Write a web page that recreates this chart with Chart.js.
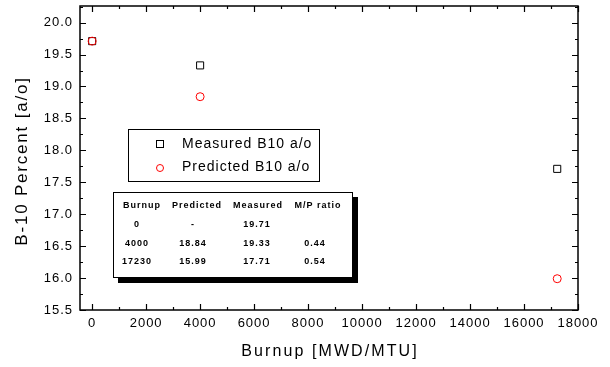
<!DOCTYPE html>
<html>
<head>
<meta charset="utf-8">
<script src="https://cdn.jsdelivr.net/npm/chart.js@4/dist/chart.umd.min.js"></script>
<style>
  html, body { margin: 0; padding: 0; background: #fff; }
  #wrap { width: 610px; height: 367px; position: relative; }
</style>
</head>
<body>
<div id="wrap"><canvas id="chart"></canvas></div>
<script>
// burnup values (MWD/MTU)
const burnup = [0, 4000, 17230];
const measured = [19.71, 19.33, 17.71];
const predicted = [19.71, 18.84, 15.99];

const xTicks = [0, 2000, 4000, 6000, 8000, 10000, 12000, 14000, 16000, 18000];
const yTicks = [15.5, 16.0, 16.5, 17.0, 17.5, 18.0, 18.5, 19.0, 19.5, 20.0];

const xTitle = 'Burnup [MWD/MTU]';
const yTitle = 'B-10 Percent [a/o]';

// summary table shown inside the plot
const tableHead = ['Burnup', 'Predicted', 'Measured', 'M/P ratio'];
const tableRows = [
  ['0', '-', '19.71', ''],
  ['4000', '18.84', '19.33', '0.44'],
  ['17230', '15.99', '17.71', '0.54'],
];

const FONT = '"Liberation Sans", Arial, sans-serif';

const frame = {
  id: 'frame',
  beforeDraw(chart) {
    // old-plot look: slightly spaced glyphs for tick labels
    chart.ctx.letterSpacing = '1px';
  },
  afterDraw(chart) {
    const { ctx, chartArea: a, scales: { x, y } } = chart;
    ctx.save();
    ctx.strokeStyle = '#000';
    ctx.lineWidth = 1.5;
    ctx.strokeRect(a.left, a.top, a.right - a.left, a.bottom - a.top);

    // inward ticks on all four sides
    ctx.lineWidth = 1.2;
    ctx.beginPath();
    for (let v = 0; v <= 18000; v += 1000) {
      const px = Math.round(x.getPixelForValue(v)) + 0.5;
      const len = v % 2000 === 0 ? 6 : 3;
      ctx.moveTo(px, a.bottom); ctx.lineTo(px, a.bottom - len);
      ctx.moveTo(px, a.top); ctx.lineTo(px, a.top + len);
    }
    for (let v = 15.5; v <= 20.25; v += 0.25) {
      const py = Math.round(y.getPixelForValue(v)) + 0.5;
      const len = Math.abs(v * 2 - Math.round(v * 2)) < 1e-6 ? 6 : 3;
      ctx.moveTo(a.left, py); ctx.lineTo(a.left + len, py);
      ctx.moveTo(a.right, py); ctx.lineTo(a.right - len, py);
    }
    ctx.stroke();

    // axis titles
    ctx.fillStyle = '#000';
    ctx.textAlign = 'center';
    ctx.textBaseline = 'middle';
    ctx.font = '16px ' + FONT;
    ctx.letterSpacing = '2.1px';
    ctx.fillText(xTitle, (a.left + a.right) / 2 + 1, 352);
    ctx.save();
    ctx.translate(22, (a.top + a.bottom) / 2 + 3);
    ctx.rotate(-Math.PI / 2);
    ctx.font = '17px ' + FONT;
    ctx.letterSpacing = '1.8px';
    ctx.fillText(yTitle, 0, 0);
    ctx.restore();

    // legend box
    ctx.lineWidth = 1;
    ctx.strokeStyle = '#000';
    ctx.strokeRect(128.5, 129.5, 191, 52);
    ctx.strokeRect(156.5, 140.5, 7, 7);
    ctx.strokeStyle = '#f00';
    ctx.beginPath();
    ctx.arc(160, 168, 3.5, 0, Math.PI * 2);
    ctx.stroke();
    ctx.fillStyle = '#000';
    ctx.font = '14px ' + FONT;
    ctx.letterSpacing = '1px';
    ctx.textAlign = 'left';
    ctx.fillText('Measured B10 a/o', 182, 144);
    ctx.fillText('Predicted B10 a/o', 182, 167);

    // table with drop shadow
    ctx.fillStyle = '#000';
    ctx.fillRect(118, 197, 240, 86);
    ctx.fillStyle = '#fff';
    ctx.fillRect(113, 192, 239, 85);
    ctx.strokeStyle = '#000';
    ctx.strokeRect(113.5, 192.5, 239, 85);
    ctx.fillStyle = '#000';
    ctx.font = 'bold 9px ' + FONT;
    ctx.letterSpacing = '1px';
    ctx.textAlign = 'center';
    const cols = [142, 197, 258, 318];
    tableHead.forEach((t, i) => ctx.fillText(t, cols[i], 206));
    const rowX = [137, 193, 257, 315];
    tableRows.forEach((r, j) => r.forEach((t, i) => ctx.fillText(t, rowX[i], 225 + j * 18.5)));
    ctx.restore();
  }
};

new Chart(document.getElementById('chart'), {
  type: 'scatter',
  data: {
    datasets: [
      {
        label: 'Measured B10 a/o',
        data: burnup.map((b, i) => ({ x: b, y: measured[i] })),
        order: 1,
        pointStyle: 'rect',
        radius: 5,
        borderColor: '#000',
        backgroundColor: 'rgba(0,0,0,0)',
        borderWidth: 1,
      },
      {
        label: 'Predicted B10 a/o',
        data: burnup.map((b, i) => ({ x: b, y: predicted[i] })),
        order: 0,
        pointStyle: 'circle',
        radius: 4,
        borderColor: '#f00',
        backgroundColor: 'rgba(0,0,0,0)',
        borderWidth: 1,
      },
    ]
  },
  options: {
    responsive: true,
    maintainAspectRatio: false,
    animation: false,
    layout: { padding: { top: 5, right: 32, left: 0, bottom: 0 } },
    plugins: { legend: { display: false }, tooltip: { enabled: false } },
    scales: {
      x: {
        type: 'linear',
        min: -450,
        max: 18000,
        afterBuildTicks: s => { s.ticks = xTicks.map(v => ({ value: v })); },
        afterFit: s => { s.height = 57; s.paddingLeft = 0; s.paddingRight = 0; },
        grid: { display: false, drawTicks: false },
        border: { display: false },
        ticks: { color: '#000', font: { family: FONT, size: 13 }, padding: 6, maxRotation: 0, callback: v => String(v) },
      },
      y: {
        type: 'linear',
        min: 15.5,
        max: 20.26,
        afterBuildTicks: s => { s.ticks = yTicks.map(v => ({ value: v })); },
        afterFit: s => { s.width = 80; s.paddingTop = 0; s.paddingBottom = 0; },
        grid: { display: false, drawTicks: false },
        border: { display: false },
        ticks: { color: '#000', font: { family: FONT, size: 13 }, padding: 7, callback: v => v.toFixed(1) },
      }
    }
  },
  plugins: [frame]
});
</script>
</body>
</html>
